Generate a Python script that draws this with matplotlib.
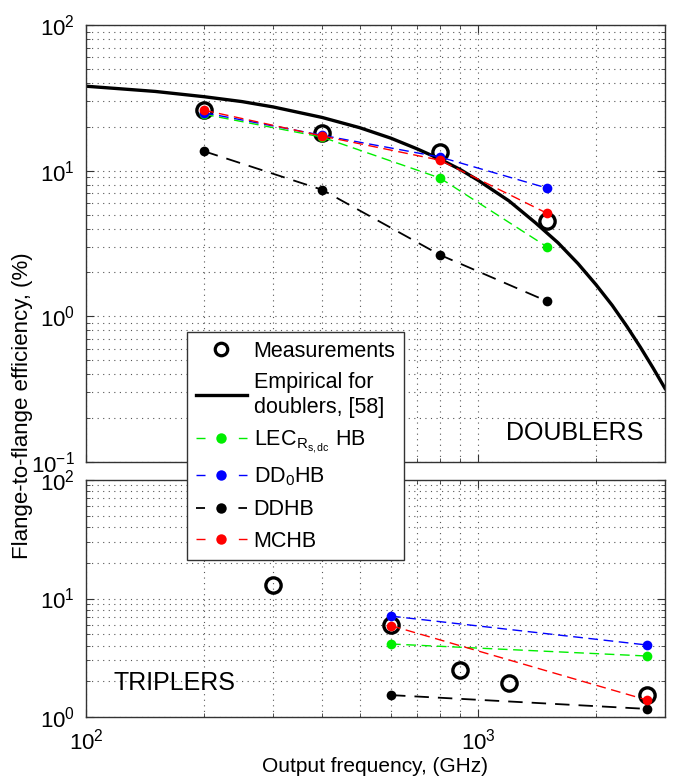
import matplotlib
matplotlib.use('Agg')
import matplotlib.pyplot as plt
from matplotlib.lines import Line2D
from matplotlib.ticker import LogLocator, NullFormatter

plt.rcParams['font.family'] = ['Liberation Sans', 'DejaVu Sans']
plt.rcParams['mathtext.fontset'] = 'custom'
plt.rcParams['mathtext.rm'] = 'Liberation Sans'
plt.rcParams['mathtext.it'] = 'Liberation Sans:italic'
plt.rcParams['mathtext.bf'] = 'Liberation Sans:bold'

# doublers (GHz, %)
dbl_meas_f = [200, 400, 800, 1500]
dbl_meas = [26.0, 18.1, 13.4, 4.5]
emp_f = [100, 150, 200, 250, 300, 400, 500, 600, 700, 800, 900, 1000, 1200, 1400, 1600,
         1800, 2000, 2200, 2400, 2600, 2800, 3000]
emp = [38.0, 35.0, 32.2, 29.8, 27.4, 23.2, 19.7, 16.7, 14.1, 12.0, 10.2, 8.6, 6.2, 4.4, 3.2,
       2.3, 1.65, 1.19, 0.85, 0.61, 0.44, 0.32]
dbl_f = [200, 400, 800, 1500]
dbl_lec = [24.4, 17.0, 8.9, 3.0]
dbl_dd0 = [25.0, 17.5, 12.4, 7.6]
dbl_ddhb = [13.6, 7.4, 2.64, 1.27]
dbl_mchb = [26.0, 17.3, 11.8, 5.1]

# triplers
tri_meas_f = [300, 600, 900, 1200, 2700]
tri_meas = [13.0, 5.97, 2.49, 1.94, 1.53]
tri_f = [600, 2700]
tri_lec = [4.13, 3.27]
tri_dd0 = [7.1, 4.05]
tri_ddhb = [1.53, 1.17]
tri_mchb = [5.9, 1.39]

labels = ['Measurements', 'Empirical for\ndoublers, [58]', r'LEC$_{\mathrm{R}_{\mathrm{s,dc}}}$ HB',
          r'DD$_{0}$HB', 'DDHB', 'MCHB']

green = '#00ee00'
blue = '#0000ff'
red = '#ff0000'

fig = plt.figure(figsize=(6.75, 7.77), dpi=100)
ax1 = fig.add_axes([86 / 675, 1 - 462 / 777, 579 / 675, 437 / 777])
ax2 = fig.add_axes([86 / 675, 1 - 717 / 777, 579 / 675, 237 / 777])

meas_kw = dict(ls='none', marker='o', ms=11, mfc='none', mec='k', mew=2.4)
dash_kw = dict(lw=1.0, dashes=(7, 4), marker='o', ms=7, mew=0)
blk_kw = dict(lw=1.3, dashes=(8, 5), marker='o', ms=7, mew=0, color='k')

ax1.plot(dbl_meas_f, dbl_meas, **meas_kw)
ax1.plot(emp_f, emp, color='k', lw=2.4)
ax1.plot(dbl_f, dbl_lec, color=green, **dash_kw)
ax1.plot(dbl_f, dbl_dd0, color=blue, **dash_kw)
ax1.plot(dbl_f, dbl_ddhb, **blk_kw)
ax1.plot(dbl_f, dbl_mchb, color=red, **dash_kw)

ax2.plot(tri_meas_f, tri_meas, **meas_kw)
ax2.plot(tri_f, tri_lec, color=green, **dash_kw)
ax2.plot(tri_f, tri_dd0, color=blue, **dash_kw)
ax2.plot(tri_f, tri_ddhb, **blk_kw)
ax2.plot(tri_f, tri_mchb, color=red, **dash_kw)

for ax, ylim in [(ax1, (0.1, 100)), (ax2, (1, 100))]:
    ax.set_xscale('log')
    ax.set_yscale('log')
    ax.set_xlim(100, 3000)
    ax.set_ylim(*ylim)
    ax.xaxis.set_major_locator(LogLocator(base=10))
    ax.yaxis.set_major_locator(LogLocator(base=10))
    ax.xaxis.set_minor_locator(LogLocator(base=10, subs=range(2, 10)))
    ax.yaxis.set_minor_locator(LogLocator(base=10, subs=range(2, 10)))
    ax.xaxis.set_minor_formatter(NullFormatter())
    ax.yaxis.set_minor_formatter(NullFormatter())
    ax.tick_params(which='both', direction='in', top=True, right=True, colors='#333333',
                   labelcolor='k', labelsize=16)
    ax.tick_params(which='major', length=6, width=0.8, pad=8)
    ax.tick_params(which='minor', length=3, width=0.6)
    ax.grid(True, which='both', ls=(0, (1, 4)), lw=0.8, color='#555555')
    ax.set_axisbelow(True)
    for s in ax.spines.values():
        s.set_color('#333333')
        s.set_linewidth(1.0)

ax1.tick_params(labelbottom=False)
ax2.set_xlabel('Output frequency, (GHz)', fontsize=15, labelpad=2)

ax1.text(0.962, 0.066, 'DOUBLERS', transform=ax1.transAxes, ha='right', va='center', fontsize=18)
ax2.text(0.047, 0.143, 'TRIPLERS', transform=ax2.transAxes, ha='left', va='center', fontsize=18)

fig.text(0.034, 1 - 406 / 777, 'Flange-to-flange efficiency, (%)', rotation=90,
         ha='center', va='center', fontsize=16)

# legend proxies: one short dash each side of the dot
handles = [
    Line2D([], [], ls='none', marker='o', ms=9, mfc='none', mec='k', mew=2.3),
    Line2D([], [], color='k', lw=2.4),
    Line2D([], [], color=green, lw=1.0, dashes=(6.5, 24), marker='o', ms=7.5, mew=0),
    Line2D([], [], color=blue, lw=1.0, dashes=(6.5, 24), marker='o', ms=7.5, mew=0),
    Line2D([], [], color='k', lw=1.3, dashes=(5, 18.5), marker='o', ms=7.5, mew=0),
    Line2D([], [], color=red, lw=1.0, dashes=(6.5, 24), marker='o', ms=7.5, mew=0),
]
leg = fig.legend(handles, labels, loc='upper left', bbox_to_anchor=(187 / 675, 1 - 332 / 777),
                 borderaxespad=0, fontsize=15.5, frameon=True, fancybox=False, framealpha=1,
                 edgecolor='#333333', handlelength=2.4, handletextpad=0.3, labelspacing=0.5,
                 borderpad=0.4)
leg.get_frame().set_linewidth(1.0)

fig.savefig('out.png', dpi=100)
